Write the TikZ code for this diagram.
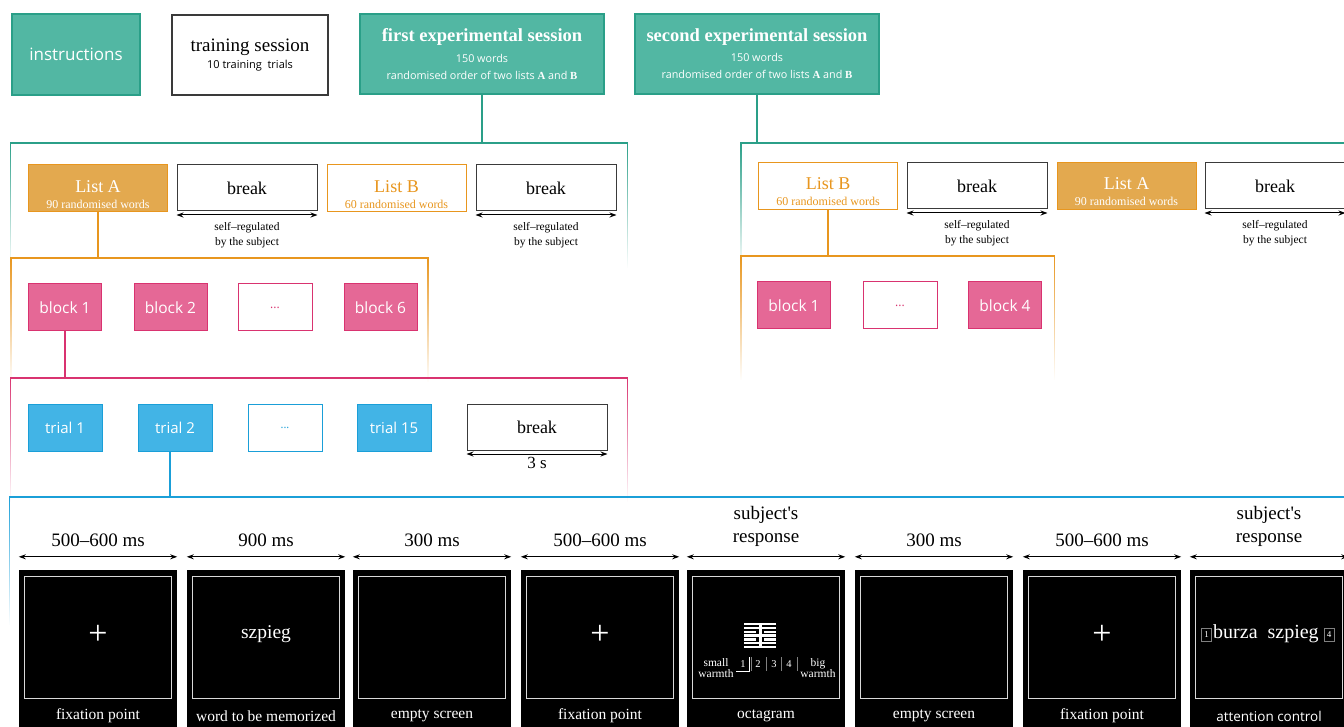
\documentclass[tikz,border=0pt]{standalone}
\usepackage{fontspec}
\setmainfont{Liberation Serif}
\newfontfamily\sansf{Open Sans}
\usetikzlibrary{arrows.meta,fadings}
\definecolor{tealF}{HTML}{52B7A3}
\definecolor{tealD}{HTML}{2A9F88}
\definecolor{orF}{HTML}{E3A94F}
\definecolor{orD}{HTML}{E8961E}
\definecolor{pkF}{HTML}{E56896}
\definecolor{pkD}{HTML}{D93370}
\definecolor{blF}{HTML}{42B4E6}
\definecolor{blD}{HTML}{1A9FD8}
\definecolor{grD}{HTML}{3A3A3A}
\newcommand{\fsz}[1]{\fontsize{#1}{#1}\selectfont}
\newcommand{\ltitle}{\fsz{18}}
\newcommand{\lsub}{\fsz{12}}
\begin{document}
\begin{tikzpicture}[x=1pt,y=-1pt,
 every node/.style={inner sep=0pt},
 tealbox/.style={draw=tealD, fill=tealF, line width=1.3pt, text=white, align=center, minimum width=244, minimum height=80},
 whitebox/.style={draw=grD, fill=white, line width=1.2pt, align=center},
 orbox/.style={draw=orD, fill=orF, line width=1pt, minimum width=139, minimum height=47},
 orwbox/.style={draw=orD, fill=white, line width=1pt, minimum width=139, minimum height=47},
 ortext/.style={text=white, align=center},
 orwtext/.style={text=orD, align=center},
 brkbox/.style={draw=grD, fill=white, line width=1pt, minimum width=140, minimum height=46, font=\fsz{18}},
 pkbox/.style={draw=pkD, fill=pkF, line width=1pt, text=white, minimum width=73, minimum height=47, font=\sansf\fsz{15.5}},
 pkwbox/.style={draw=pkD, fill=white, line width=1pt, text=pkD, minimum width=74, minimum height=47, font=\sansf\fsz{12}},
 blbox/.style={draw=blD, fill=blF, line width=1pt, text=white, minimum width=74, minimum height=47, font=\sansf\fsz{15}},
 blwbox/.style={draw=blD, fill=white, line width=1pt, text=blD, minimum width=74, minimum height=47, font=\sansf\fsz{11}},
 frame/.style={line width=1.2pt, path fading=south},
 dur/.style={<->, >={Stealth[length=7pt,width=5pt]}, line width=1pt},
 small/.style={font=\fsz{11.5}, align=center},
 panel/.style={fill=black, minimum width=158, minimum height=170},
 inner/.style={draw=white!85!black, line width=1.2pt},
 plabel/.style={text=white, font=\fsz{15.5}},
 durlabel/.style={font=\fsz{19}, align=center}
]
\useasboundingbox (0,0) rectangle (1344,727);
\clip (0,0) rectangle (1344,727);

% ---------- top row ----------
\node[tealbox, minimum width=128, minimum height=81, font=\sansf\fsz{17}] (instr) at (76,54.5) {instructions};
\node[whitebox, minimum width=156, minimum height=80] (train) at (250,55)
 {{\fsz{19}training session}\\[3pt]{\sansf\fsz{11}10 training\ \ trials}};
\node[tealbox] (first) at (482,54)
 {{\bfseries\fsz{18.5}first experimental session}\\[7pt]{\sansf\fsz{10.8}150 words}\\[5pt]{\sansf\fsz{10.8}randomised order of two lists \textrm{\bfseries A} and \textrm{\bfseries B}}};
\node[tealbox] (second) at (757,54)
 {{\bfseries\fsz{18.5}second experimental session}\\[7pt]{\sansf\fsz{10.8}150 words}\\[5pt]{\sansf\fsz{10.8}randomised order of two lists \textrm{\bfseries A} and \textrm{\bfseries B}}};

\coordinate (c1t) at (482,143);
\coordinate (c1bt) at (757,143);
\draw[tealD, line width=1.2pt] (first.south) -- (c1t);
\draw[tealD, line width=1.2pt] (second.south) -- (c1bt);

% ---------- session containers ----------
\draw[tealD, frame] (11,268) -- (11,143) -- (628,143) -- (628,268);
\draw[tealD, frame] (741,268) -- (741,143) -- (1350,143) -- (1350,268);

% left session
\node[orbox] (la1) at (98,188.5) {};
\node[ortext] (la1t) at ([yshift=-6pt]la1.center) {{\ltitle List A}\\[4pt]{\lsub 90 randomised words}};
\node[brkbox] (br1) at (247,188) {break};
\node[orwbox] (lb1) at (396.5,188.5) {};
\node[orwtext] (lb1t) at ([yshift=-6pt]lb1.center) {{\ltitle List B}\\[4pt]{\lsub 60 randomised words}};
\node[brkbox] (br2) at (546,188) {break};
\draw[dur] ([yshift=-3.5pt]br1.south west) -- ([yshift=-3.5pt]br1.south east);
\draw[dur] ([yshift=-3.5pt]br2.south west) -- ([yshift=-3.5pt]br2.south east);
\node[small, anchor=north] (sr1) at ([yshift=-11pt]br1.south) {self–regulated\\[3pt]by the subject};
\node[small, anchor=north] (sr2) at ([yshift=-11pt]br2.south) {self–regulated\\[3pt]by the subject};

% right session
\node[orwbox] (lb2) at (828,186.5) {};
\node[orwtext] (lb2t) at ([yshift=-5pt]lb2.center) {{\ltitle List B}\\[4pt]{\lsub 60 randomised words}};
\node[brkbox] (br3) at (977,186) {break};
\node[orbox] (la2) at (1126.5,186.5) {};
\node[ortext] (la2t) at ([yshift=-5pt]la2.center) {{\ltitle List A}\\[4pt]{\lsub 90 randomised words}};
\node[brkbox] (br4) at (1275,186) {break};
\draw[dur] ([yshift=-3.5pt]br3.south west) -- ([yshift=-3.5pt]br3.south east);
\draw[dur] ([yshift=-3.5pt]br4.south west) -- ([yshift=-3.5pt]br4.south east);
\node[small, anchor=north] (sr3) at ([yshift=-11pt]br3.south) {self–regulated\\[3pt]by the subject};
\node[small, anchor=north] (sr4) at ([yshift=-11pt]br4.south) {self–regulated\\[3pt]by the subject};

% ---------- list containers ----------
\coordinate (c2t) at (98,258);
\coordinate (c2bt) at (828,256);
\draw[orD, line width=1.2pt] (la1.south) -- (c2t);
\draw[orD, line width=1.2pt] (lb2.south) -- (c2bt);
\draw[orD, frame] (11,382) -- (11,258) -- (428,258) -- (428,382);
\draw[orD, frame] (741,380) -- (741,256) -- (1055,256) -- (1055,380);

\node[pkbox] (b1) at (65,307.5) {block 1};
\node[pkbox] (b2) at (170.5,307.5) {block 2};
\node[pkwbox] (bd) at (275,307.5) {...};
\node[pkbox] (b6) at (380.5,307.5) {block 6};

\node[pkbox] (rb1) at (794,305.5) {block 1};
\node[pkwbox] (rbd) at (900,305.5) {...};
\node[pkbox] (rb4) at (1005,305.5) {block 4};

% ---------- block container ----------
\coordinate (c3t) at (65,378);
\draw[pkD, line width=1.2pt] (b1.south) -- (c3t);
\draw[pkD, frame] (11,502) -- (11,378) -- (628,378) -- (628,502);

\node[blbox] (t1) at (65,427.5) {trial 1};
\node[blbox] (t2) at (175,427.5) {trial 2};
\node[blwbox] (td) at (285,427.5) {...};
\node[blbox] (t15) at (394,427.5) {trial 15};
\node[brkbox] (br5) at (537,427) {break};
\draw[dur] ([yshift=-3.5pt]br5.south west) -- ([yshift=-3.5pt]br5.south east);
\node[font=\fsz{17}, anchor=north] (three) at ([yshift=-7pt]br5.south) {3 s};

% ---------- trial container ----------
\coordinate (c4t) at (170,497);
\draw[blD, line width=1.2pt] (t2.south -| c4t) -- (c4t);
\draw[blD, frame] (11,625) -- (11,497) -- (1350,497) -- (1350,625);

% ---------- screens ----------
\node[panel] (p1) at (98,655) {};
\node[panel] (p2) at (266,655) {};
\node[panel] (p3) at (432,655) {};
\node[panel] (p4) at (600,655) {};
\node[panel] (p5) at (766,655) {};
\node[panel] (p6) at (934,655) {};
\node[panel] (p7) at (1102,655) {};
\node[panel] (p8) at (1269,655) {};

\foreach \p in {p1,p2,p3,p4,p5,p6,p7,p8}{
  \draw[inner] ([xshift=6pt,yshift=-7pt]\p.north west) rectangle ([xshift=-6pt,yshift=-129pt]\p.north east);
  \draw[dur] ([yshift=13pt]\p.north west) -- ([yshift=13pt]\p.north east);
}

\node[durlabel] (d1) at ([yshift=30pt]p1.north) {500–600 ms};
\node[durlabel] (d2) at ([yshift=30pt]p2.north) {900 ms};
\node[durlabel] (d3) at ([yshift=30pt]p3.north) {300 ms};
\node[durlabel] (d4) at ([yshift=30pt]p4.north) {500–600 ms};
\node[durlabel] (d5) at ([yshift=43pt]p5.north) {subject\textquotesingle s\\[4pt]response};
\node[durlabel] (d6) at ([yshift=30pt]p6.north) {300 ms};
\node[durlabel] (d7) at ([yshift=30pt]p7.north) {500–600 ms};
\node[durlabel] (d8) at ([yshift=43pt]p8.north) {subject\textquotesingle s\\[4pt]response};

\node[plabel] (l1) at (98,716) {fixation point};
\node[plabel] (l2) at (266,716) {word to be memorized};
\node[plabel] (l3) at (432,716) {empty screen};
\node[plabel] (l4) at (600,716) {fixation point};
\node[plabel] (l5) at (766,716) {octagram};
\node[plabel] (l6) at (934,716) {empty screen};
\node[plabel] (l7) at (1102,716) {fixation point};
\node[plabel, font=\sansf\fsz{13.5}] (l8) at (1269,716) {attention control};

% screen contents
\node[text=white, font=\fsz{34}] (fx1) at (98,635) {+};
\node[text=white, font=\fsz{19.5}] (w2) at (266,634) {szpieg};
\node[text=white, font=\fsz{34}] (fx4) at (600,635) {+};
\node[text=white, font=\fsz{34}] (fx7) at (1102,635) {+};

% octagram symbol
\begin{scope}[fill=white]
  \fill (744,623) rectangle (776,625.4);
  \fill (744,626.8) rectangle (776,629.2);
  \fill (744,630.6) rectangle (756,633.0);
  \fill (764,630.6) rectangle (776,633.0);
  \fill (744,634.4) rectangle (776,636.8);
  \fill (744,638.2) rectangle (756,640.6);
  \fill (764,638.2) rectangle (776,640.6);
  \fill (744,642.0) rectangle (776,644.4);
  \fill (744,645.8) rectangle (776,648.2);
  \fill (758.5,623) rectangle (761.5,648.2);
\end{scope}
\node[text=white, font=\fsz{11.5}, align=center] (sw) at (716,668) {small\\[-1pt]warmth};
\node[text=white, font=\fsz{11.5}, align=center] (bw) at (818,668) {big\\[-1pt]warmth};
\node[text=white, font=\fsz{10.5}] (n1) at (743,664) {1};
\node[text=white, font=\fsz{10.5}] (n2) at (758,664) {2};
\node[text=white, font=\fsz{10.5}] (n3) at (774,664) {3};
\node[text=white, font=\fsz{10.5}] (n4) at (789,664) {4};
\draw[white, line width=0.8pt] (736,671) -- (749,671) -- (749,657);
\draw[gray, line width=0.6pt] (751.5,657) -- (751.5,671) (766,657) -- (766,671) (781.5,657) -- (781.5,671) (797,657) -- (797,671);

% attention control
\node[text=white, font=\fsz{9}, draw=gray, line width=0.5pt, minimum width=10, minimum height=13] (k1) at (1206.5,635) {1};
\node[text=white, font=\fsz{20}, anchor=west] (bz) at (1213,634) {burza\ \ szpieg};
\node[text=white, font=\fsz{9}, draw=gray, line width=0.5pt, minimum width=10, minimum height=13] (k4) at (1329,635) {4};
\end{tikzpicture}
\end{document}
